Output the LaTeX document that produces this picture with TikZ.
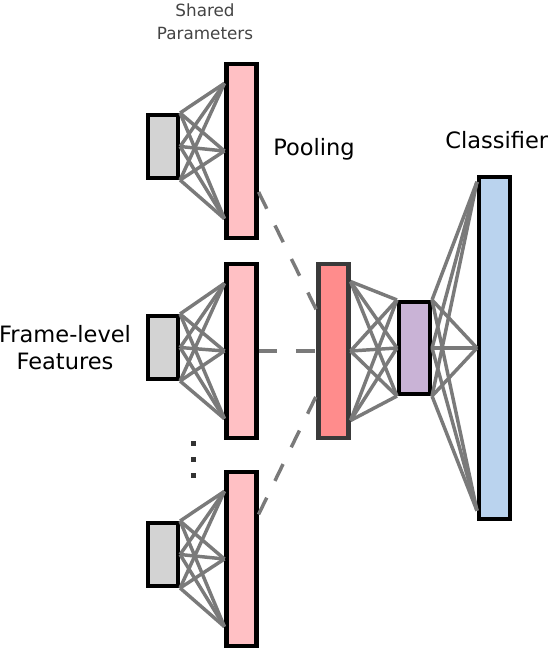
\documentclass[tikz,border=0pt]{standalone}
\usepackage{fontspec}
\setmainfont{DejaVu Sans}
\usepackage{xcolor}
\usetikzlibrary{calc}
\definecolor{linkgray}{HTML}{7A7A7A}
\definecolor{featgray}{HTML}{D3D3D3}
\definecolor{sharedpink}{HTML}{FFC0C4}
\definecolor{poolred}{HTML}{FF8C8C}
\definecolor{pooledge}{HTML}{3A3A3A}
\definecolor{embpurple}{HTML}{C9B3D6}
\definecolor{clsblue}{HTML}{BAD3EE}
\definecolor{textgray}{HTML}{444444}
\definecolor{dotgray}{HTML}{333333}
\tikzset{
  layer/.style={rectangle, draw=black, line width=3.3pt, minimum width=22.3pt, inner sep=0pt},
  feat/.style={layer, fill=featgray, minimum height=47pt},
  shared/.style={layer, fill=sharedpink, minimum height=130.3pt},
  link/.style={draw=linkgray, line width=2.6pt},
  poollink/.style={link, dash pattern=on 14pt off 14pt},
  lbl/.style={font=\fontsize{16.9}{20.25}\selectfont, align=center, inner sep=0pt},
}

\begin{document}
\begin{tikzpicture}[x=0.75pt, y=-0.75pt]
    \useasboundingbox (0,0) rectangle (548,652);
    % frame-level features and shared layers
    \foreach \i/\fy/\sy in {1/146.5/151, 2/347.5/351, 3/554.5/559} {
      \node[feat] (f\i) at (163,\fy) {};
      \node[shared] (s\i) at (241.5,\sy) {};
      \foreach \a in {north east, east, south east}
        \foreach \t in {0.12, 0.5, 0.88}
          \draw[link] (f\i.\a) -- ($(s\i.north west)!\t!(s\i.south west)$);
    }
    \foreach \y in {443, 459, 475}
      \fill[dotgray] (191,\y-2.5) rectangle (196,\y+2.5);
    % pooling
    \node[shared, fill=poolred, draw=pooledge] (pool) at (333.5,351) {};
    \draw[poollink] ($(s1.north east)!0.73!(s1.south east)$) -- ($(pool.north west)!0.27!(pool.south west)$);
    \draw[poollink] (s2.east) -- (pool.west);
    \draw[poollink] ($(s3.north east)!0.25!(s3.south east)$) -- ($(pool.north west)!0.75!(pool.south west)$);
    % classifier
    \node[layer, fill=embpurple, minimum width=23pt, minimum height=68.8pt] (emb) at (414.5,348) {};
    \node[layer, fill=clsblue, minimum width=23pt, minimum height=256.3pt] (cls) at (494.5,348) {};
    \foreach \t in {0.11, 0.5, 0.89}
      \foreach \a in {north west, west, south west}
        \draw[link] ($(pool.north east)!\t!(pool.south east)$) -- (emb.\a);
    \foreach \a in {north east, east, south east}
      \foreach \t in {0.02, 0.5, 0.97}
        \draw[link] (emb.\a) -- ($(cls.north west)!\t!(cls.south west)$);
    % labels
    \node[lbl, text=textgray, font=\fontsize{12.6}{17.25}\selectfont] (shared) at (205,22) {Shared\\Parameters};
    \node[lbl, anchor=base west] (pooling) at (273,156) {Pooling};
    \node[lbl, anchor=base west] (classifier) at (445,149) {Classifier};
    \node[lbl] (frames) at (65,348) {Frame-level\\Features};
\end{tikzpicture}
\end{document}
